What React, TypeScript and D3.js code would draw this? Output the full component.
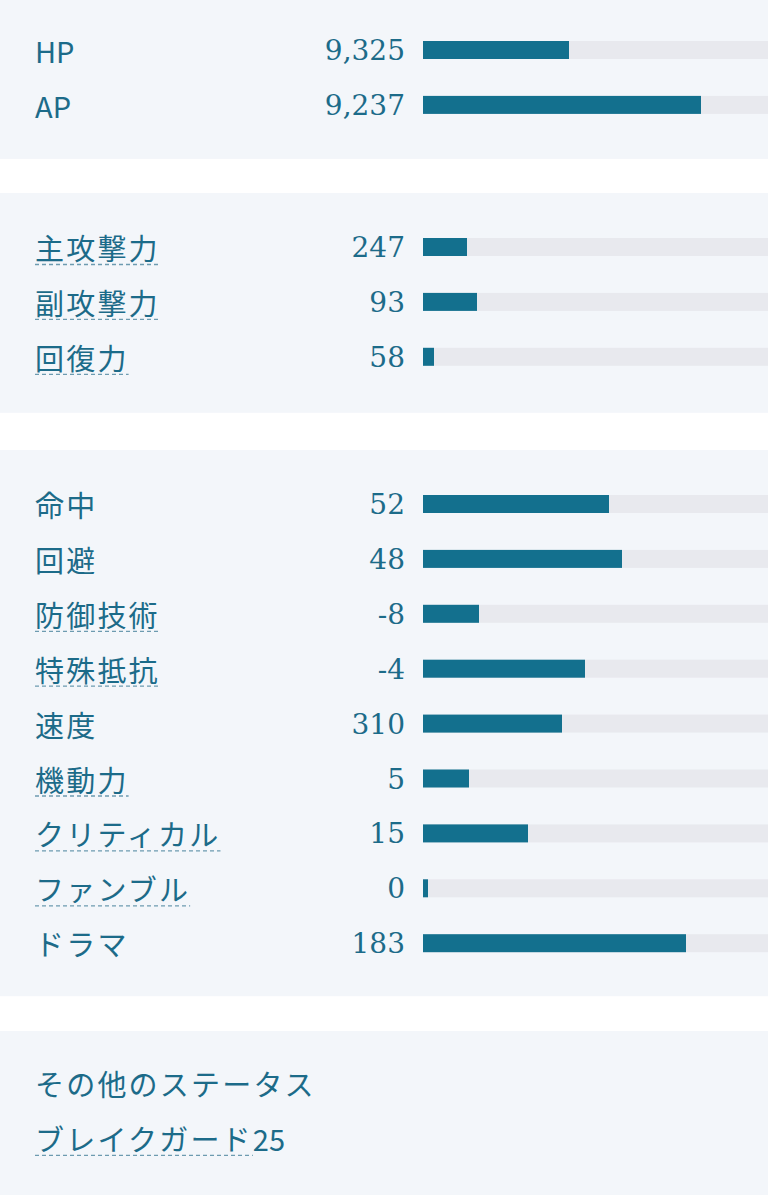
import React, { useEffect, useRef } from "react";
import * as d3 from "d3";

// ---- data ----
const group1Labels = ["HP", "AP"];
const group1Values = [9325, 9237];
const group1Bars = [36.5, 69.5];
const group1Dotted = [false, false];

const group2Labels = ["主攻撃力", "副攻撃力", "回復力"];
const group2Values = [247, 93, 58];
const group2Bars = [11, 13.5, 2.75];
const group2Dotted = [true, true, true];

const group3Labels = ["命中", "回避", "防御技術", "特殊抵抗", "速度", "機動力", "クリティカル", "ファンブル", "ドラマ"];
const group3Values = [52, 48, -8, -4, 310, 5, 15, 0, 183];
const group3Bars = [46.5, 49.75, 14, 40.5, 34.75, 11.5, 26.25, 1.25, 65.75];
const group3Dotted = [false, false, true, true, false, true, true, true, false];

const otherTitle = "その他のステータス";
const otherLabel = "ブレイクガード";
const otherValue = "25";

const W = 768;
const H = 1200;
const PANEL_BG = "#f3f6fa";
const TRACK = "#e8e9ee";
const BAR = "#13708e";
const TEXT = "#1c6b89";
const DASH = "#6d9bb0";
const CJK = "'Noto Sans CJK JP', 'Noto Sans', sans-serif";
const NUM = "'DejaVu Serif', serif";
const LS = 2.2;

export default function App() {
  const ref = useRef<SVGSVGElement>(null);

  useEffect(() => {
    const svg = d3.select(ref.current);
    svg.selectAll("*").remove();

    const rowH = 54.9;
    const padTop = 54;
    const fmt = (v: number) => v.toLocaleString("en-US");
    const x = d3.scaleLinear().domain([0, 100]).range([0, 400]);
    const barX0 = 423;
    const barH = 18;

    const groups = [
      { labels: group1Labels, values: group1Values, bars: group1Bars, dotted: group1Dotted, top: -4, padB: 54 },
      { labels: group2Labels, values: group2Values, bars: group2Bars, dotted: group2Dotted, top: 193, padB: 56 },
      { labels: group3Labels, values: group3Values, bars: group3Bars, dotted: group3Dotted, top: 450, padB: 53 },
    ];

    const drawLabel = (g: any, text: string, cy: number, dotted: boolean) => {
      const ascii = /^[\x00-\x7f]+$/.test(text);
      const t = g
        .append("text")
        .attr("x", 35)
        .attr("y", cy)
        .attr("dominant-baseline", "central")
        .attr("font-family", CJK)
        .attr("font-size", 29)
        .attr("letter-spacing", ascii ? 0 : LS)
        .attr("fill", TEXT)
        .text(text);
      const w = (t.node() as SVGTextElement).getComputedTextLength();
      if (dotted) {
        g.append("line")
          .attr("x1", 35)
          .attr("x2", 35 + w)
          .attr("y1", cy + 17.5)
          .attr("y2", cy + 17.5)
          .attr("stroke", DASH)
          .attr("stroke-width", 1.3)
          .attr("stroke-dasharray", "4 3");
      }
      return w;
    };

    groups.forEach((gr) => {
      const n = gr.labels.length;
      const height = padTop + gr.padB + rowH * (n - 1);
      const g = svg.append("g");
      g.append("rect").attr("x", 0).attr("y", gr.top).attr("width", W).attr("height", height).attr("fill", PANEL_BG);
      gr.labels.forEach((lab, i) => {
        const cy = gr.top + padTop + i * rowH;
        drawLabel(g, lab, cy, gr.dotted[i]);
        g.append("text")
          .attr("x", 405)
          .attr("y", cy)
          .attr("dy", "0.36em")
          .attr("text-anchor", "end")
          .attr("font-family", NUM)
          .attr("font-size", 28)
          .attr("fill", TEXT)
          .text(fmt(gr.values[i]));
        g.append("rect")
          .attr("x", barX0)
          .attr("y", cy - barH / 2)
          .attr("width", W - barX0)
          .attr("height", barH)
          .attr("fill", TRACK);
        g.append("rect")
          .attr("x", barX0)
          .attr("y", cy - barH / 2)
          .attr("width", x(gr.bars[i]))
          .attr("height", barH)
          .attr("fill", BAR);
      });
    });

    // other status panel
    const top4 = 1031;
    const g4 = svg.append("g");
    g4.append("rect").attr("x", 0).attr("y", top4).attr("width", W).attr("height", 164).attr("fill", PANEL_BG);
    drawLabel(g4, otherTitle, top4 + 52, false);
    const lw = drawLabel(g4, otherLabel, top4 + 52 + rowH, true);
    g4.append("text")
      .attr("x", 35 + lw)
      .attr("y", top4 + 52 + rowH)
      .attr("dominant-baseline", "central")
      .attr("font-family", CJK)
      .attr("font-size", 29)
      .attr("fill", TEXT)
      .text(otherValue);
  }, []);

  return (
    <svg
      ref={ref}
      width={W}
      height={H}
      style={{ position: "absolute", left: 0, top: 0, background: "#ffffff", display: "block" }}
    />
  );
}
